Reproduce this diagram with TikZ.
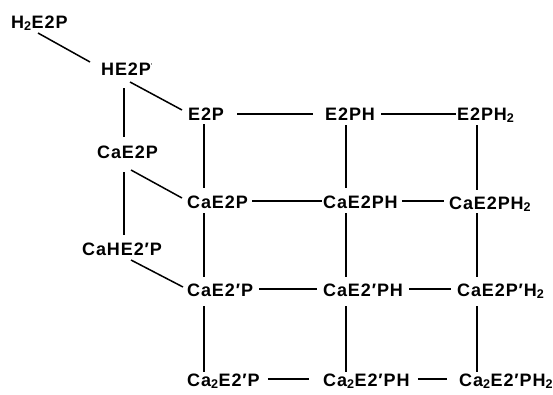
\documentclass[tikz,border=0pt]{standalone}
\usepackage{fontspec}
\setmainfont{Liberation Sans}[LetterSpace=5]
\newcommand{\sbt}[1]{\textsubscript{#1}}
\newcommand{\pr}{′}
\begin{document}
\begin{tikzpicture}[x=1pt,y=-1pt,
  lbl/.style={anchor=base west, inner sep=0pt, font=\fontsize{18}{20}\selectfont\bfseries},
  conn/.style={line width=1.5pt}]
\useasboundingbox (0,0) rectangle (553,394);
% nodes
\node[lbl] (h2)    at (11,28)  {H\sbt{2}E2P};
\node[lbl] (he)    at (101,75) {HE2P\textsuperscript{\scriptsize\mdseries\pr}};
\node[lbl] (e2p)   at (188,120) {E2P};
\node[lbl] (e2ph)  at (325,120) {E2PH};
\node[lbl] (e2ph2) at (457,120) {E2PH\sbt{2}};
\node[lbl] (cal)   at (97,158) {CaE2P};
\node[lbl] (ca1)   at (187,208) {CaE2P};
\node[lbl] (ca2)   at (323,208) {CaE2PH};
\node[lbl] (ca3)   at (449,209) {CaE2PH\sbt{2}};
\node[lbl] (cahe)  at (82,255) {CaHE2\pr P};
\node[lbl] (cap1)  at (187,296) {CaE2\pr P};
\node[lbl] (cap2)  at (323,296) {CaE2\pr PH};
\node[lbl] (cap3)  at (457,296) {CaE2P\pr H\sbt{2}};
\node[lbl] (cc1)   at (187,386) {Ca\sbt{2}E2\pr P};
\node[lbl] (cc2)   at (323,386) {Ca\sbt{2}E2\pr PH};
\node[lbl] (cc3)   at (459,386) {Ca\sbt{2}E2\pr PH\sbt{2}};
% diagonal and left connectors
\draw[conn] ([shift={(27,5)}]h2.base west) -- ([shift={(-11,-13)}]he.base west);
\draw[conn] ([shift={(29,7)}]he.base west) -- ([shift={(-6,-10)}]e2p.base west);
\draw[conn] ([shift={(23,13)}]he.base west) -- ([shift={(27,-21)}]cal.base west);
\draw[conn] ([shift={(34,12)}]cal.base west) -- ([shift={(-5,-10)}]ca1.base west);
\draw[conn] ([shift={(27,14)}]cal.base west) -- ([shift={(42,-20)}]cahe.base west);
\draw[conn] ([shift={(49,5)}]cahe.base west) -- ([shift={(-4,-9)}]cap1.base west);
% column 1
\draw[conn] ([shift={(16,4)}]e2p.base west) -- ([shift={(17,-20)}]ca1.base west);
\draw[conn] ([shift={(17,5)}]ca1.base west) -- ([shift={(17,-19)}]cap1.base west);
\draw[conn] ([shift={(17,10)}]cap1.base west) -- ([shift={(17,-14)}]cc1.base west);
% column 2
\draw[conn] ([shift={(21,5)}]e2ph.base west) -- ([shift={(23,-20)}]ca2.base west);
\draw[conn] ([shift={(23,5)}]ca2.base west) -- ([shift={(23,-19)}]cap2.base west);
\draw[conn] ([shift={(23,10)}]cap2.base west) -- ([shift={(23,-14)}]cc2.base west);
% column 3
\draw[conn] ([shift={(20,5)}]e2ph2.base west) -- ([shift={(28,-19)}]ca3.base west);
\draw[conn] ([shift={(28,4)}]ca3.base west) -- ([shift={(20,-19)}]cap3.base west);
\draw[conn] ([shift={(20,10)}]cap3.base west) -- ([shift={(18,-14)}]cc3.base west);
% rows
\draw[conn] ([shift={(13,-6)}]e2p.base east) -- ([shift={(-12,-6)}]e2ph.base west);
\draw[conn] ([shift={(6,-6)}]e2ph.base east) -- ([shift={(-1,-6)}]e2ph2.base west);
\draw[conn] ([shift={(4,-7)}]ca1.base east) -- ([shift={(-1,-7)}]ca2.base west);
\draw[conn] ([shift={(4,-7)}]ca2.base east) -- ([shift={(-5,-8)}]ca3.base west);
\draw[conn] ([shift={(6,-7)}]cap1.base east) -- ([shift={(-6,-7)}]cap2.base west);
\draw[conn] ([shift={(6,-7)}]cap2.base east) -- ([shift={(-6,-7)}]cap3.base west);
\draw[conn] ([shift={(8,-7)}]cc1.base east) -- ([shift={(-14,-7)}]cc2.base west);
\draw[conn] ([shift={(8,-7)}]cc2.base east) -- ([shift={(-12,-7)}]cc3.base west);
\end{tikzpicture}
\end{document}
